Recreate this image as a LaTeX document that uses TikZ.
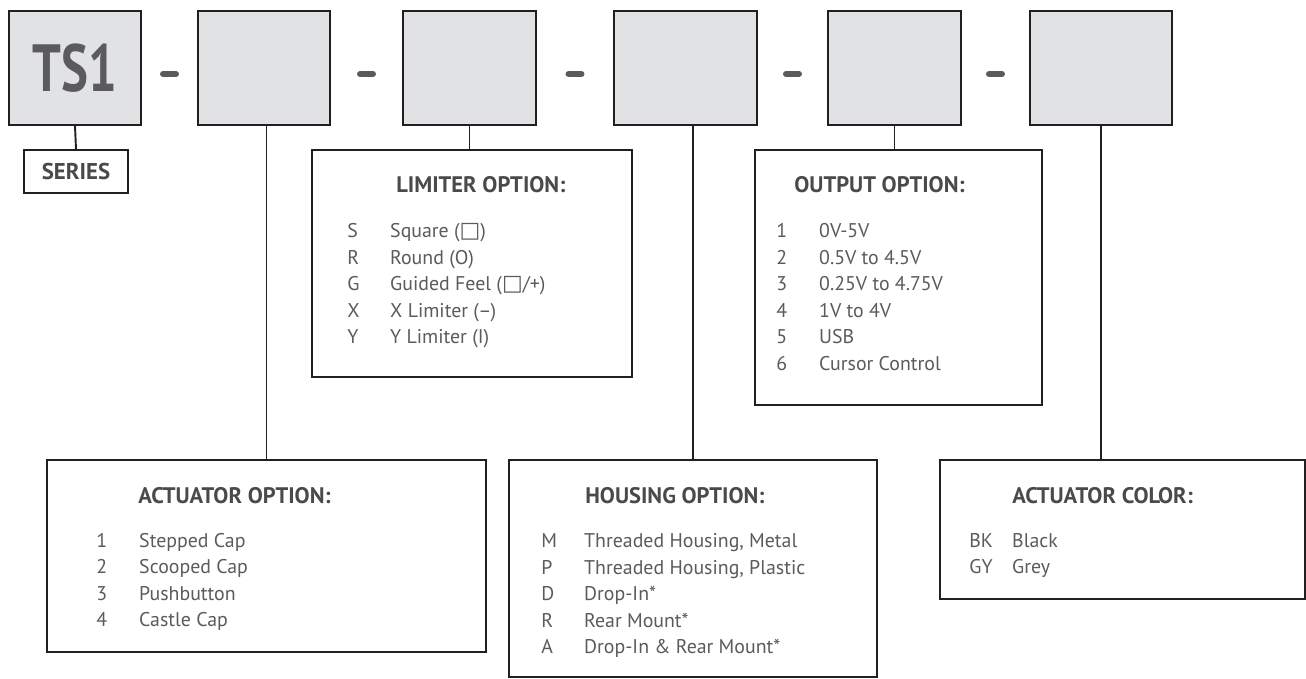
\documentclass[tikz,border=0pt]{standalone}
\usepackage{fontspec}
\setmainfont{PT Sans}
\newfontfamily\symfont{DejaVu Sans}
\newfontfamily\tsfont{PT Sans}[FakeStretch=0.76]
\usetikzlibrary{calc}

\definecolor{boxfill}{HTML}{E1E2E4}
\definecolor{linegray}{HTML}{231F20}
\definecolor{textgray}{HTML}{5B5B5D}
\definecolor{headgray}{HTML}{4A4A4C}

\newcommand{\optrow}[2]{\makebox[24.4pt][l]{#1}#2}
\newcommand{\sqsym}{{\symfont\fontsize{12.5}{12}\selectfont □}}

\begin{document}
\begin{tikzpicture}[x=0.02cm, y=-0.02cm,
    codebox/.style={rectangle, draw=linegray, line width=1.1pt, fill=boxfill, minimum width=2.64cm, minimum height=2.28cm, inner sep=0pt},
    optbox/.style={rectangle, draw=linegray, line width=1.1pt, fill=white, inner sep=0pt},
    link/.style={draw=linegray, line width=1.1pt},
    dashline/.style={draw=textgray, line width=3.4pt, line cap=round},
    heading/.style={anchor=base west, inner sep=0pt, text=headgray, font=\fontsize{12.8}{15}\selectfont\bfseries},
    items/.style={anchor=base west, inner sep=0pt, align=left, text=textgray, font=\fontsize{11.3}{15.1}\selectfont}
]
\useasboundingbox (0,0) rectangle (1306,679);

% Code boxes
\node[codebox, text=textgray, font=\tsfont\fontsize{38}{40}\selectfont\bfseries] (b1) at (75,68) {TS1};
\node[codebox] (b2) at (264,68) {};
\node[codebox, minimum width=2.66cm] (b3) at (469.5,68) {};
\node[codebox, minimum width=2.86cm] (b4) at (685.5,68) {};
\node[codebox, minimum width=2.66cm] (b5) at (894.5,68) {};
\node[codebox, minimum width=2.84cm] (b6) at (1101,68) {};

% Dashes
\coordinate (d1) at ($(b1.east)!.5!(b2.west)$);
\coordinate (d2) at ($(b2.east)!.5!(b3.west)$);
\coordinate (d3) at ($(b3.east)!.5!(b4.west)$);
\coordinate (d4) at ($(b4.east)!.5!(b5.west)$);
\coordinate (d5) at ($(b5.east)!.5!(b6.west)$);
\draw[dashline] ([shift={(-6.5,6)}]d1) -- ([shift={(6.5,6)}]d1);
\draw[dashline] ([shift={(-6.5,6)}]d2) -- ([shift={(6.5,6)}]d2);
\draw[dashline] ([shift={(-6.5,6)}]d3) -- ([shift={(6.5,6)}]d3);
\draw[dashline] ([shift={(-6.5,6)}]d4) -- ([shift={(6.5,6)}]d4);
\draw[dashline] ([shift={(-6.5,6)}]d5) -- ([shift={(6.5,6)}]d5);

% Option boxes
\node[optbox, minimum width=2.08cm, minimum height=0.86cm, text=headgray, font=\fontsize{13}{15}\selectfont\bfseries] (ser) at (76,171.5) {SERIES};
\node[optbox, minimum width=6.4cm, minimum height=4.54cm] (lim) at (472,263.5) {};
\node[optbox, minimum width=5.74cm, minimum height=5.1cm] (out) at (898.5,277.5) {};
\node[optbox, minimum width=8.78cm, minimum height=3.84cm] (act) at (266.5,556) {};
\node[optbox, minimum width=7.36cm, minimum height=4.34cm] (hous) at (693,568.5) {};
\node[optbox, minimum width=7.3cm, minimum height=2.78cm] (col) at (1122.5,529.5) {};

% Links
\draw[link] (b1.south) -- (ser.north);
\draw[link] (b2.south -| act.north) -- (act.north);
\draw[link] (b3.south) -- (b3.south |- lim.north);
\draw[link] (b4.south -| hous.north) -- (hous.north);
\draw[link] (b5.south) -- (b5.south |- out.north);
\draw[link] (b6.south) -- (b6.south |- col.north);

% Limiter option (list base = last line)
\node[heading] (limhead) at (396,193) {LIMITER OPTION:};
\node[items] (limlist) at (347,343.6) {\optrow{S}{Square (\sqsym)}\\ \optrow{R}{Round (O)}\\ \optrow{G}{Guided Feel (\sqsym/+)}\\ \optrow{X}{X Limiter (--)}\\ \optrow{Y}{Y Limiter (I)}};

% Output option
\node[heading] (outhead) at (794,193) {OUTPUT OPTION:};
\node[items] (outlist) at (776,370.2) {\optrow{1}{0V-5V}\\ \optrow{2}{0.5V to 4.5V}\\ \optrow{3}{0.25V to 4.75V}\\ \optrow{4}{1V to 4V}\\ \optrow{5}{USB}\\ \optrow{6}{Cursor Control}};

% Actuator option
\node[heading] (acthead) at (138,503) {ACTUATOR OPTION:};
\node[items] (actlist) at (96,626.9) {\optrow{1}{Stepped Cap}\\ \optrow{2}{Scooped Cap}\\ \optrow{3}{Pushbutton}\\ \optrow{4}{Castle Cap}};

% Housing option
\node[heading] (houshead) at (585,503) {HOUSING OPTION:};
\node[items] (houslist) at (541,653.6) {\optrow{M}{Threaded Housing, Metal}\\ \optrow{P}{Threaded Housing, Plastic}\\ \optrow{D}{Drop-In*}\\ \optrow{R}{Rear Mount*}\\ \optrow{A}{Drop-In \& Rear Mount*}};

% Actuator color
\node[heading] (colhead) at (1012,503) {ACTUATOR COLOR:};
\node[items] (collist) at (969,573.6) {\optrow{BK}{Black}\\ \optrow{GY}{Grey}};

\end{tikzpicture}
\end{document}
